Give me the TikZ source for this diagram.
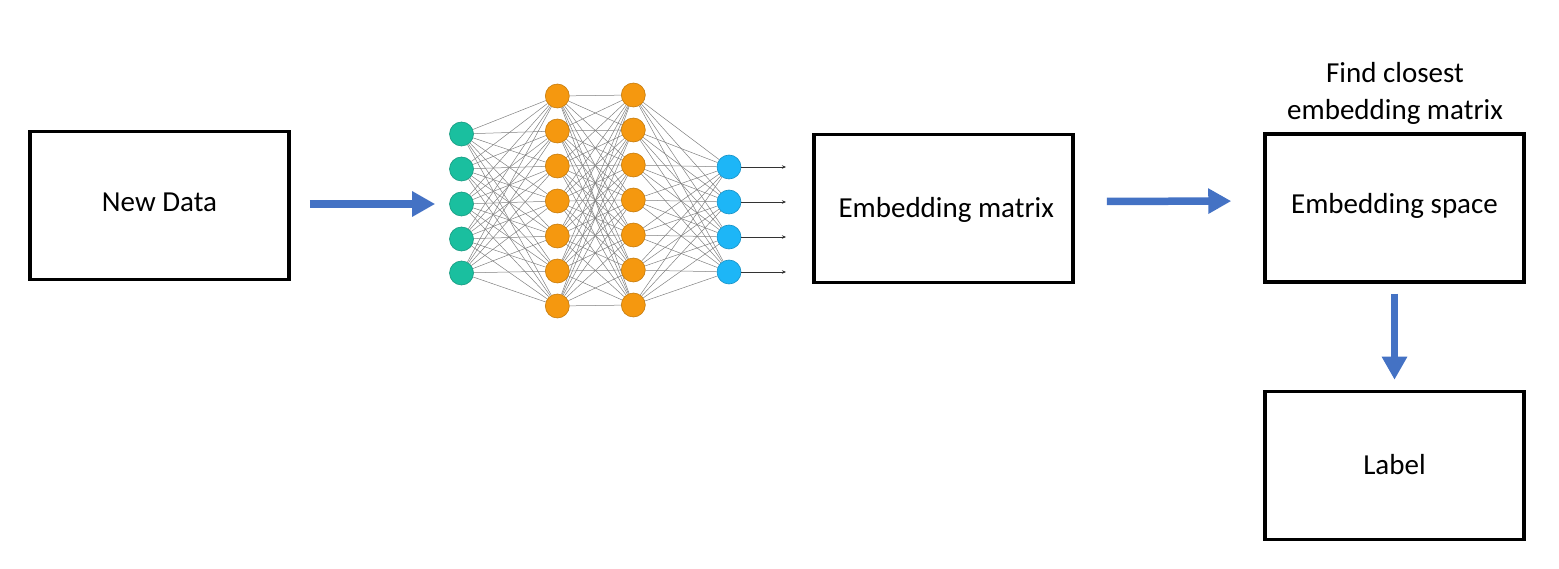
\documentclass[tikz,border=0pt]{standalone}
\usepackage{fontspec}
\setmainfont{Carlito}
\usetikzlibrary{arrows.meta,backgrounds}
\definecolor{arrblue}{HTML}{4472C4}
\definecolor{ingreen}{HTML}{1ABF9F}
\definecolor{hidorange}{HTML}{F5980F}
\definecolor{outblue}{HTML}{1DB6F7}
\tikzset{
  box/.style={draw=black, line width=3.5pt, minimum width=259pt, minimum height=148pt,
              inner sep=0pt, text height=18.7pt, text depth=0pt,
              font=\fontsize{29}{35}\selectfont},
  bigarrow/.style={draw=arrblue, line width=7.5pt,
              -{Triangle[length=23pt,width=24pt]}},
  neuron/.style={circle, minimum size=24pt, inner sep=0pt, line width=0.6pt},
  inneuron/.style={neuron, fill=ingreen, draw=ingreen!80!black},
  hidneuron/.style={neuron, fill=hidorange, draw=hidorange!80!black},
  outneuron/.style={neuron, fill=outblue, draw=outblue!80!black},
  edge/.style={draw=black!50, line width=0.5pt},
  outarrow/.style={draw=black!80, line width=0.6pt, -{Stealth[length=4pt,width=3.5pt]}},
  caption/.style={align=center, font=\fontsize{29}{37}\selectfont, inner sep=0pt}
}
\begin{document}
\begin{tikzpicture}[x=1pt,y=-1pt]
\useasboundingbox (0,0) rectangle (1559,569);

% boxes
\node[box] (nd) at (159.5,205.5) {\raisebox{3.5pt}{New Data}};
\node[box] (em) at (943.7,208.5) {\hspace*{5pt}Embedding matrix};
\node[box] (es) at (1394.5,208) {\raisebox{4pt}{Embedding space}};
\node[box] (lab) at (1394.5,465.5) {Label};

\node[caption] (cap) at (1395,93) {Find closest\\embedding matrix};

% network nodes
\foreach \i/\y in {1/134,2/169,3/204,4/239,5/273}
  \node[inneuron] (i\i) at (461.5,\y) {};
\foreach \i/\y in {1/96,2/131,3/166,4/201,5/236,6/271,7/306}
  \node[hidneuron] (a\i) at (557.3,\y) {};
\foreach \i/\y in {1/95,2/130,3/165,4/200,5/235,6/270,7/305}
  \node[hidneuron] (b\i) at (633.3,\y) {};
\foreach \i/\y in {1/167,2/202,3/237,4/272}
  \node[outneuron] (o\i) at (729,\y) {};

% edges behind the neurons
\begin{scope}[on background layer]
\foreach \i in {1,...,5}
  \foreach \j in {1,...,7}
    \draw[edge] (i\i) -- (a\j);
\foreach \i in {1,...,7}
  \foreach \j in {1,...,7}
    \draw[edge] (a\i) -- (b\j);
\foreach \i in {1,...,7}
  \foreach \j in {1,...,4}
    \draw[edge] (b\i) -- (o\j);
\end{scope}

% output arrows
\foreach \i in {1,...,4} {
  \coordinate (oe\i) at ([xshift=57pt]o\i.center);
  \draw[outarrow] (o\i.east) -- (oe\i);
}

% big arrows
\draw[bigarrow, shorten <=19pt, shorten >=14pt] (nd.east |- i3) -- (i3.west);
\draw[bigarrow, shorten <=32pt, shorten >=32pt] ([yshift=7pt]em.east) -- ([yshift=7pt]es.west);
\draw[bigarrow, shorten <=10pt, shorten >=10pt] (es.south) -- (lab.north);
\end{tikzpicture}
\end{document}
